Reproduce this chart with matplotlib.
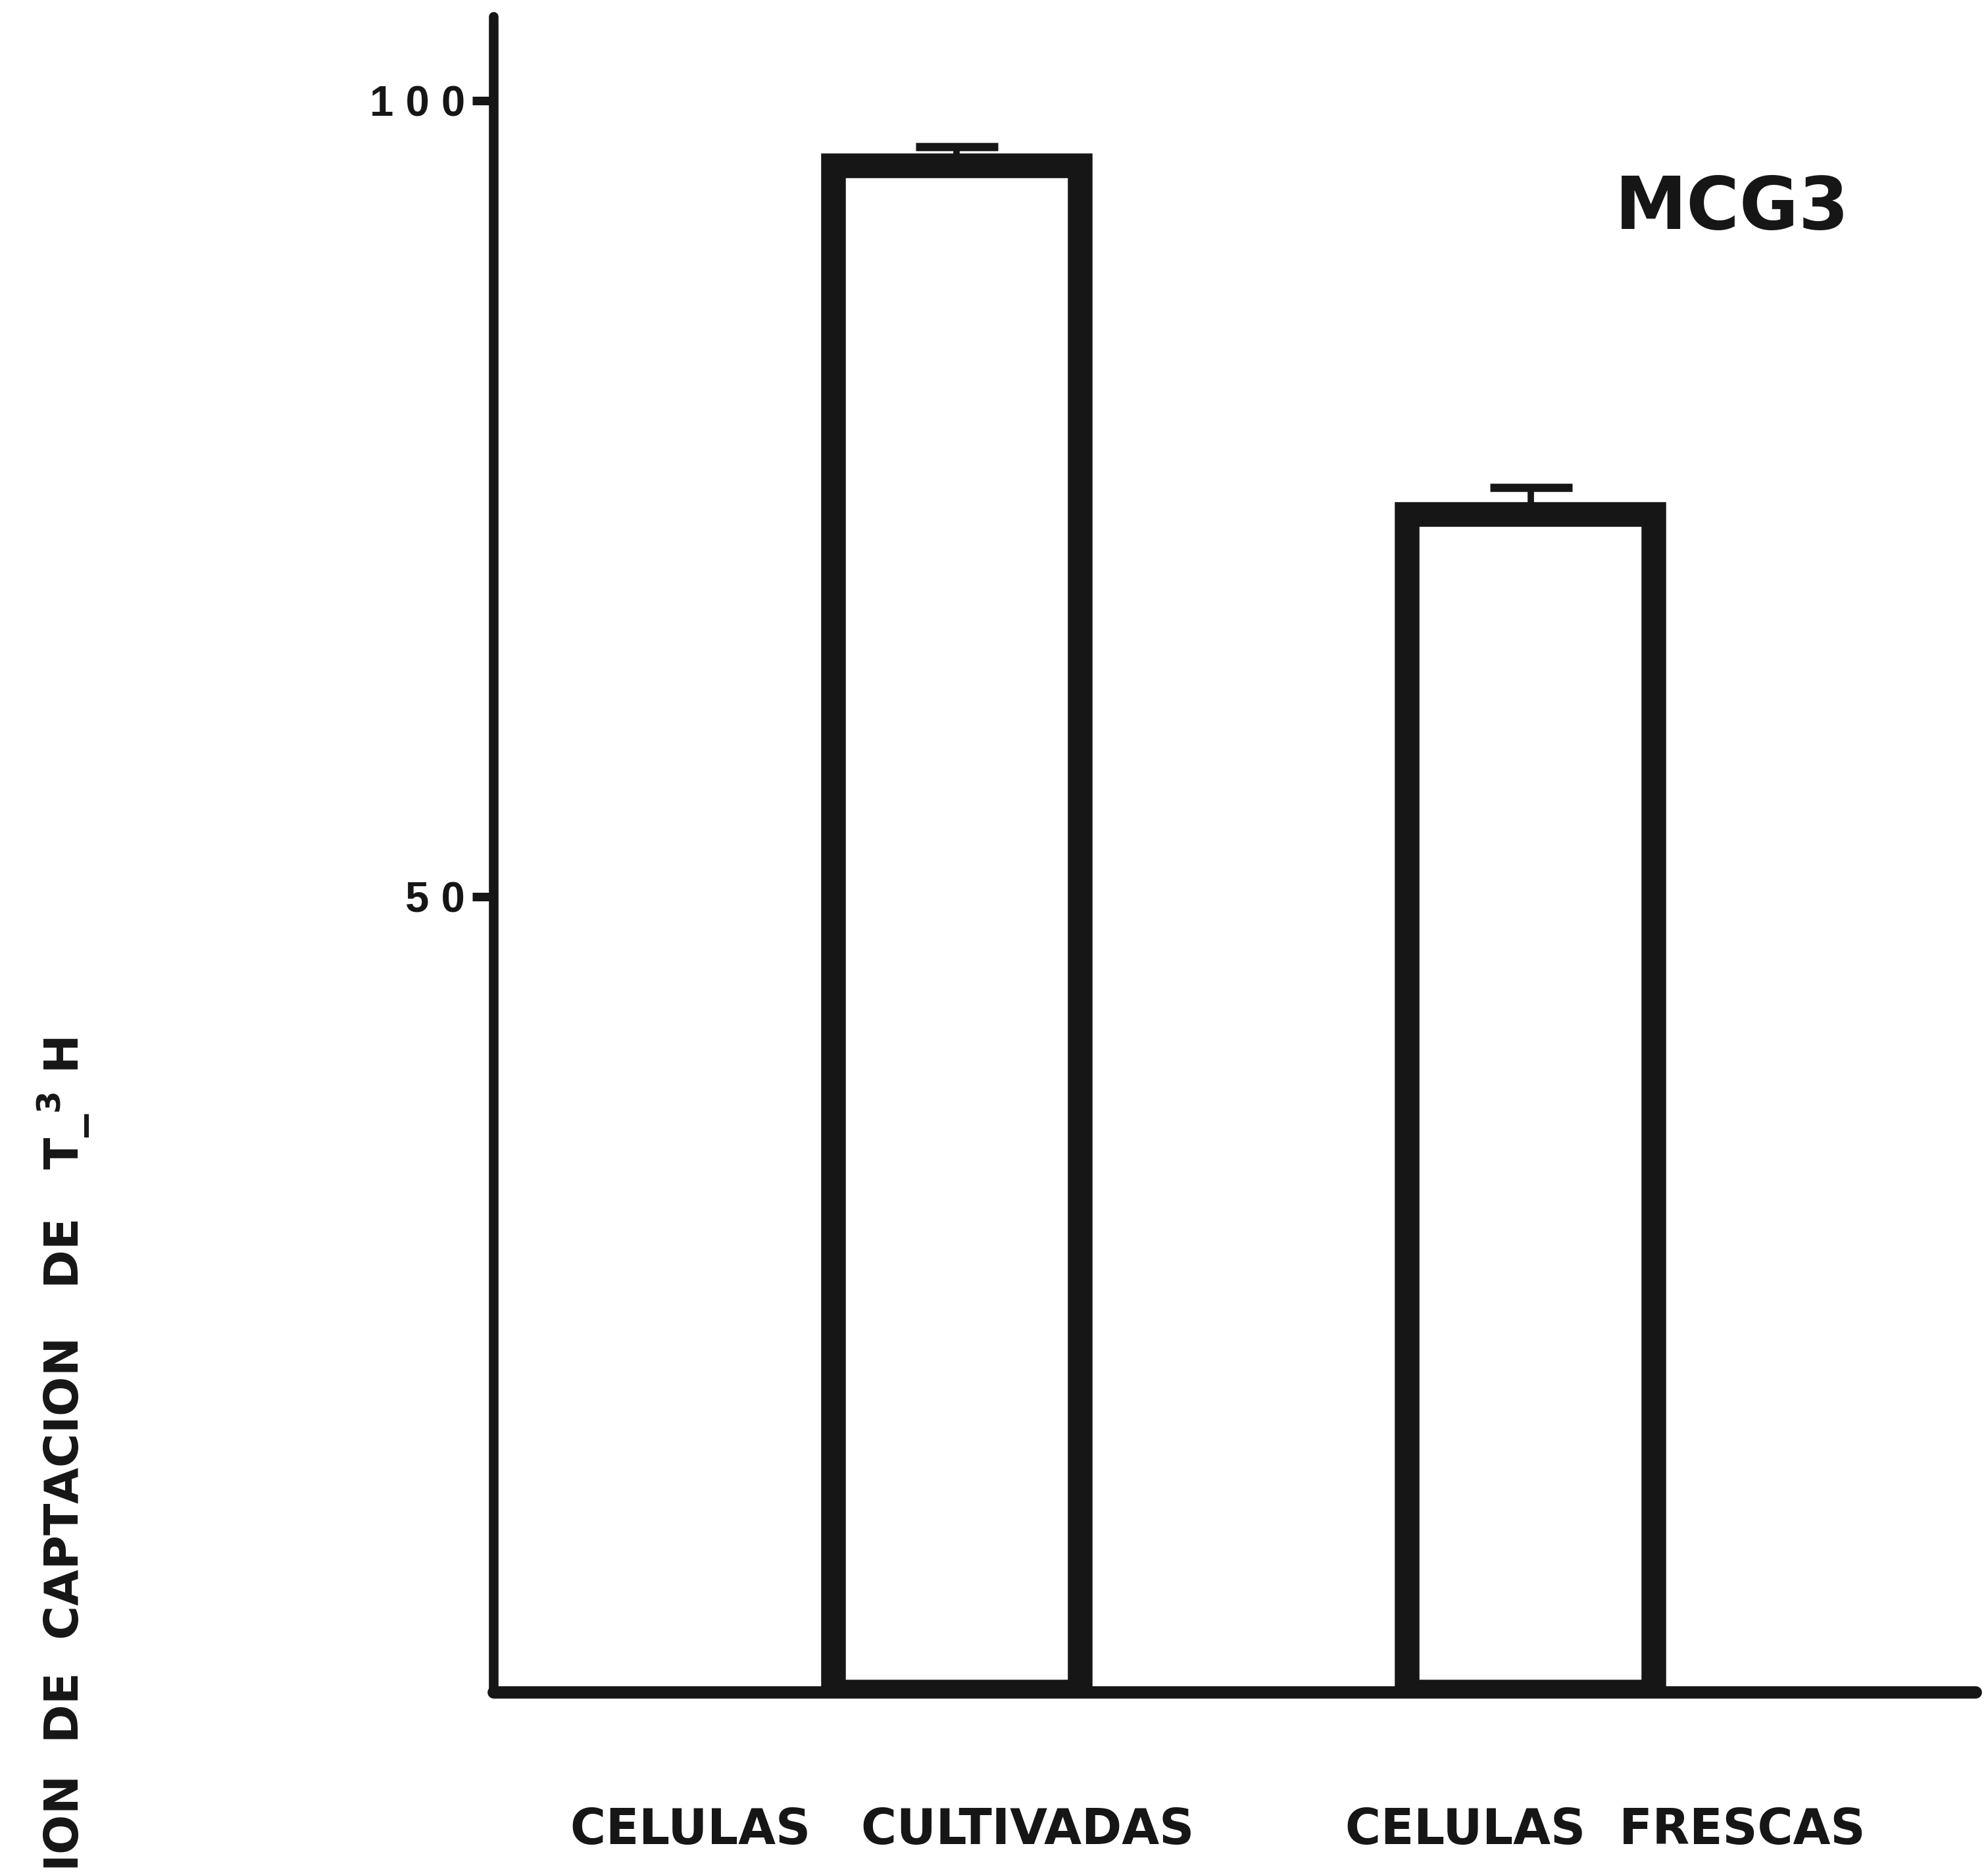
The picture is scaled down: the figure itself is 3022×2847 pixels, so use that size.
import matplotlib
matplotlib.use("Agg")
import matplotlib.pyplot as plt
from matplotlib.transforms import blended_transform_factory

# ---- data ----
categories = ["CELULAS   CULTIVADAS", "CELULAS  FRESCAS"]
values = [95.9, 74.0]
errors_up = [1.2, 1.7]
ytick_values = [50, 100]
ytick_labels = ["5 0", "1 0 0"]
panel_label = "MCG3"
ylabel_text = "% INHIBICION  DE  CAPTACION   DE   T_$^{\\mathbf{3}}$ H"

INK = "#161616"
DPI = 100
fig = plt.figure(figsize=(30.22, 28.47), dpi=DPI, facecolor="white")
ax = fig.add_axes([0.2482, 0.0966, 0.7455, 0.8946])
ax.set_facecolor("none")

x = list(range(len(values)))
ax.bar(x, values, width=0.43, facecolor="white", edgecolor=INK,
       linewidth=27, joinstyle="miter", zorder=2)
ax.errorbar(x, values, yerr=[[0] * len(values), errors_up], fmt="none",
            ecolor=INK, elinewidth=7, capsize=45, capthick=9, zorder=3)

ax.set_xlim(-0.807, 1.775)
ax.set_ylim(0, 105.3)

for s in ["top", "right"]:
    ax.spines[s].set_visible(False)
ax.spines["left"].set_linewidth(10.5)
ax.spines["bottom"].set_linewidth(13.5)
for s in ["left", "bottom"]:
    ax.spines[s].set_color(INK)
    ax.spines[s].set_capstyle("round")

ax.set_xticks([])
ax.set_yticks(ytick_values)
ax.set_yticklabels(ytick_labels, family="Liberation Sans",
                   fontweight="bold", fontsize=47, color=INK)
ax.tick_params(axis="y", direction="out", length=23, width=9.4, color=INK, pad=8)

# category labels
tr = blended_transform_factory(ax.transData, fig.transFigure)
label_offsets = [-0.13, 0.13]
for xi, cat, off in zip(x, categories, label_offsets):
    ax.text(xi + off, 0.0225, cat, transform=tr, ha="center", va="center",
            fontsize=53, fontweight="bold", family="DejaVu Sans", color=INK)

# panel label
fig.text(2633 / 3022, 1 - 318 / 2847, panel_label, ha="center", va="center",
         fontsize=79, fontweight="bold", family="DejaVu Sans", color=INK)

# y label (clipped by the bottom edge like the scan)
fig.text(0.046, 1 - 1577 / 2847, ylabel_text, rotation=90, ha="right", va="top",
         fontsize=51, fontweight="bold", family="DejaVu Sans", color=INK)

fig.savefig("out.png", dpi=DPI, facecolor="white")
